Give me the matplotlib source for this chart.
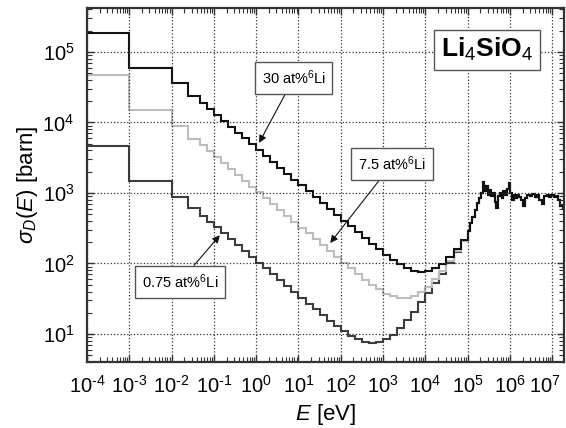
import numpy as np
import matplotlib.pyplot as plt
import matplotlib.transforms as mtransforms
from matplotlib.ticker import LogLocator, NullFormatter, FuncFormatter

plt.rcParams['font.family'] = ['Liberation Sans', 'DejaVu Sans']
plt.rcParams['mathtext.fontset'] = 'custom'
plt.rcParams['mathtext.rm'] = 'Liberation Sans'
plt.rcParams['mathtext.it'] = 'Liberation Sans:italic'
plt.rcParams['mathtext.bf'] = 'Liberation Sans:bold'

# group boundaries [eV], thermal/epithermal part
edges_low = [1e-4, 1e-3, 1e-2, 2.5e-2, 4.6e-2, 6.8e-2,
             0.1, 0.147, 0.215, 0.316, 0.464, 0.681,
             1.0, 1.47, 2.15, 3.16, 4.64, 6.81,
             10, 14.7, 21.5, 31.6, 46.4, 68.1,
             100, 147, 215, 316, 464, 681,
             1e3, 1.47e3, 2.15e3, 3.16e3, 4.64e3, 6.81e3,
             1e4, 1.47e4, 2.15e4, 3.16e4, 4.64e4, 6.81e4]
# fast part, Si/O resonances
edges_fast = [1e5, 1.15e5, 1.3e5, 1.5e5, 1.7e5, 1.9e5, 2.1e5, 2.3e5, 2.5e5,
              2.75e5, 3e5, 3.3e5, 3.6e5, 4e5, 4.4e5, 4.8e5, 5.3e5, 5.8e5,
              6.4e5, 7e5, 7.7e5, 8.5e5, 9.3e5, 1.02e6, 1.12e6, 1.23e6,
              1.35e6, 1.5e6, 1.65e6, 1.8e6, 2e6, 2.3e6, 2.6e6, 3e6, 3.4e6,
              3.9e6, 4.4e6, 5e6, 5.7e6, 6.5e6, 7.4e6, 8.4e6, 9.5e6, 1.08e7,
              1.22e7, 1.38e7, 1.56e7, 1.77e7, 2e7]

# damage cross section [barn]
sig_30 = [1.86e5, 5.9e4, 3.6e4, 2.4e4, 1.88e4, 1.55e4,
          12780, 10560, 8710, 7190, 5940, 4900,
          4040, 3340, 2755, 2274, 1878, 1549,
          1278, 1056, 871, 719, 594, 490,
          405, 335, 277, 229, 191, 159,
          133, 113, 97, 86, 79, 76,
          77, 85, 99, 123, 162, 218]
sig_7_5 = [4.7e4, 1.48e4, 8.8e3, 5.9e3, 4.74e3, 3.9e3,
           3216, 2657, 2192, 1810, 1494, 1232,
           1017, 840, 693, 572, 473, 390,
           322, 266, 219, 181, 150, 124,
           102, 85, 71, 59, 50, 43,
           37, 34, 32, 32, 34, 39,
           47, 60, 78, 107, 149, 210]
sig_0_75 = [4.7e3, 1.48e3, 880, 620, 478, 393,
            324, 268, 221, 183, 151, 124,
            103, 85, 70, 58, 48, 39.3,
            32.5, 26.9, 22.3, 18.6, 15.5, 12.9,
            11.0, 9.5, 8.4, 7.7, 7.4, 7.6,
            8.4, 9.8, 12.2, 15.6, 20.8, 28,
            38, 52, 72, 102, 145, 205]
sig_fast = [290, 370, 460, 580, 720, 850, 1000, 1450, 1050, 1250,
            950, 1100, 900, 1000, 750, 620, 900, 1000, 850, 1050,
            950, 1150, 1400, 1000, 800, 950, 850, 950, 880, 800,
            650, 850, 950, 900, 960, 880, 930, 800, 700, 900,
            950, 880, 920, 870, 900, 800, 650, 600]

edges = edges_low + edges_fast


def dec_label(v, pos):
    n = int(round(np.log10(v)))
    e = str(n).replace('-', r'\text{-}')
    return r'$10^{%s}$' % e


fig = plt.figure(figsize=(5.66, 4.28), dpi=100)
ax = fig.add_axes([0.1537, 0.1542, 0.8428, 0.8271])

ax.stairs(sig_0_75 + sig_fast, edges, baseline=None, color='#3a3f3d', lw=1.5)
ax.stairs(sig_7_5 + sig_fast, edges, baseline=None, color='#bdbdbd', lw=1.5)
ax.stairs(sig_30 + sig_fast, edges, baseline=None, color='#111111', lw=1.5)

ax.set_xscale('log')
ax.set_yscale('log')
ax.set_xlim(1e-4, 1.9e7)
ax.set_ylim(4.0, 4.2e5)

ax.xaxis.set_major_locator(LogLocator(base=10, numticks=20))
ax.xaxis.set_minor_locator(LogLocator(base=10, subs=np.arange(2, 10), numticks=20))
ax.xaxis.set_minor_formatter(NullFormatter())
ax.yaxis.set_minor_locator(LogLocator(base=10, subs=np.arange(2, 10), numticks=20))
ax.yaxis.set_minor_formatter(NullFormatter())
ax.xaxis.set_major_formatter(FuncFormatter(dec_label))
ax.yaxis.set_major_formatter(FuncFormatter(dec_label))

ax.grid(True, which='major', ls=':', color='#333333', lw=0.9)
ax.tick_params(which='both', direction='in', top=True, right=True,
               labelsize=14.5, color='#333333')
ax.tick_params(which='major', length=5, width=1, pad=9)
ax.tick_params(which='minor', length=3.5, width=0.8)
for s in ax.spines.values():
    s.set_linewidth(1.6)
    s.set_color('#333333')

# last x label sits against the figure edge, nudge it left a bit
fig.canvas.draw()
for t in ax.xaxis.get_major_ticks():
    if abs(np.log10(t.get_loc()) - 7) < 1e-6:
        t.label1.set_transform(t.label1.get_transform() +
                               mtransforms.ScaledTranslation(-5 / 72, 0, fig.dpi_scale_trans))

ax.set_xlabel('$E$ [eV]', fontsize=16, labelpad=4)
ax.set_ylabel(r'$\sigma_D(E)$ [barn]', fontsize=16, labelpad=2)

box = dict(boxstyle='square,pad=0.45', fc='white', ec='#555555', lw=1)
arr = dict(arrowstyle='-|>', color='#111111', lw=0.8, mutation_scale=11,
           shrinkA=0, shrinkB=0)
ax.annotate('30 at%$^6$Li', xy=(10**0.07, 10**3.71), xytext=(10**0.89, 10**4.63),
            ha='center', va='center', fontsize=10.5, bbox=box, arrowprops=arr)
ax.annotate('7.5 at%$^6$Li', xy=(10**1.75, 10**2.29), xytext=(10**3.21, 10**3.41),
            ha='center', va='center', fontsize=10.5, bbox=box, arrowprops=arr)
ax.annotate('0.75 at%$^6$Li', xy=(10**-0.86, 10**2.40), xytext=(10**-1.80, 10**1.74),
            ha='center', va='center', fontsize=10.5, bbox=box, arrowprops=arr)

ax.text(10**5.46, 10**5.03, r'Li$_4$SiO$_4$', ha='center', va='center',
        fontsize=19, fontweight='bold',
        bbox=dict(boxstyle='square,pad=0.25', fc='white', ec='#555555', lw=1))

fig.savefig('out.png', dpi=100)
